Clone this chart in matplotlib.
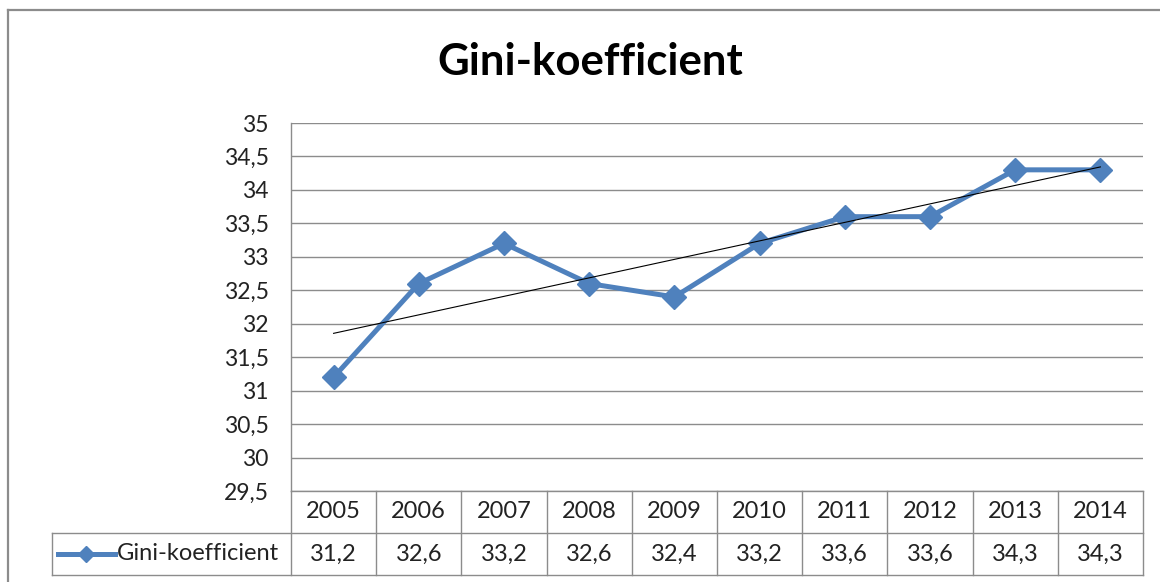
import numpy as np
import matplotlib.pyplot as plt
from matplotlib.lines import Line2D

# data
years = [2005, 2006, 2007, 2008, 2009, 2010, 2011, 2012, 2013, 2014]
gini = [31.2, 32.6, 33.2, 32.6, 32.4, 33.2, 33.6, 33.6, 34.3, 34.3]
series_name = "Gini-koefficient"
title = "Gini-koefficient"
yticks = [29.5, 30, 30.5, 31, 31.5, 32, 32.5, 33, 33.5, 34, 34.5, 35]

blue = "#4f81bd"
grid_col = "#8c8c8c"
font = "Lato"

plt.rcParams["font.family"] = [font, "DejaVu Sans"]

fig = plt.figure(figsize=(11.6, 5.82), dpi=100)
W, H = 1160, 582
ax = fig.add_axes([291 / W, 1 - 491 / H, 852 / W, 368 / H])

x = np.arange(len(years))
ax.plot(x, gini, color=blue, lw=3.6, marker="D", markersize=12,
        markeredgecolor=blue, zorder=3)

# linear trendline
k, b = np.polyfit(x, gini, 1)
ax.plot(x, k * x + b, color="black", lw=0.8, zorder=4)

ax.set_xlim(-0.5, len(years) - 0.5)
ax.set_ylim(29.5, 35)
ax.set_yticks(yticks)
ax.set_yticklabels([f"{v:g}".replace(".", ",") for v in yticks])
ax.set_xticks([])
ax.tick_params(axis="y", length=0, pad=16, labelsize=16.5, labelcolor="#222222")
ax.grid(axis="y", color=grid_col, lw=1.0)
ax.set_axisbelow(True)
for s in ["top", "right", "bottom"]:
    ax.spines[s].set_visible(False)
ax.spines["left"].set_color(grid_col)
ax.spines["left"].set_linewidth(1.0)

# data table below the plot
tr = ax.get_xaxis_transform()
row_h = 42 / 368
leg_left = (52 - 291) / 852
lc = dict(color=grid_col, lw=1.0, clip_on=False, transform=ax.transAxes)
ax.plot([0, 1], [0, 0], **lc)
ax.plot([leg_left, 1], [-row_h, -row_h], **lc)
ax.plot([leg_left, 1], [-2 * row_h, -2 * row_h], **lc)
ax.plot([leg_left, leg_left], [-row_h, -2 * row_h], **lc)
ax.plot([0, 0], [0, -2 * row_h], **lc)
for i in range(len(years)):
    xe = (i + 1) / len(years)
    ax.plot([xe, xe], [0, -2 * row_h], **lc)
for i, (yr, v) in enumerate(zip(years, gini)):
    ax.text(i, -0.5 * row_h, str(yr), transform=tr, ha="center", va="center",
            fontsize=17, color="#222222")
    ax.text(i, -1.5 * row_h, f"{v:.1f}".replace(".", ","), transform=tr,
            ha="center", va="center", fontsize=17, color="#222222")

# legend key in the table
ly = -1.5 * row_h
kx0, kx1 = (58 - 291) / 852, (115 - 291) / 852
ax.add_line(Line2D([kx0, kx1], [ly, ly], color=blue, lw=3.6,
                   transform=ax.transAxes, clip_on=False))
ax.add_line(Line2D([(kx0 + kx1) / 2], [ly], color=blue, marker="D",
                   markersize=8, transform=ax.transAxes, clip_on=False))
ax.text((117 - 291) / 852, ly, series_name, transform=ax.transAxes,
        ha="left", va="center", fontsize=17, color="#222222")

fig.text(590 / W, 1 - 62 / H, title, ha="center", va="center",
         fontsize=31.5, fontweight="bold", color="black")

# chart border
bc = dict(color="#8c8c8c", lw=1.6, transform=fig.transFigure)
fig.add_artist(Line2D([8 / W, 1.0], [1 - 10 / H, 1 - 10 / H], **bc))
fig.add_artist(Line2D([8 / W, 8 / W], [0.0, 1 - 10 / H], **bc))

fig.savefig("out.png", dpi=100, facecolor="white")
